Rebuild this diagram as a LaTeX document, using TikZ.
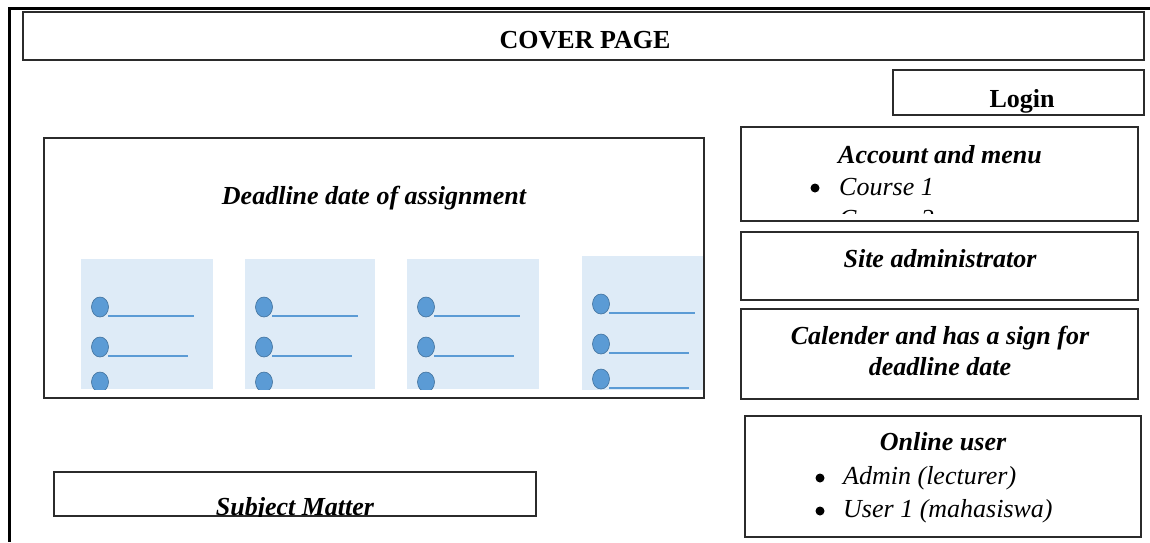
\documentclass[tikz,border=0pt]{standalone}
\usepackage{fontspec}
\setmainfont{Liberation Serif}
\definecolor{panelblue}{HTML}{DEEBF7}
\definecolor{dotblue}{HTML}{5B9BD5}
\definecolor{dotedge}{HTML}{41719C}
\definecolor{framegray}{HTML}{2B2B2B}
\tikzset{
  box/.style={draw=framegray, line width=1.3pt, anchor=north west, inner sep=0pt, outer sep=0pt},
  heading/.style={font=\fontsize{26}{31}\selectfont\bfseries\itshape, anchor=base, inner sep=0pt},
  titletext/.style={font=\fontsize{26}{31}\selectfont\bfseries, anchor=base, inner sep=0pt},
  itemtext/.style={font=\fontsize{26}{31}\selectfont\itshape, anchor=base west, inner sep=0pt},
  bulletmark/.style={circle, fill=black, inner sep=0pt, minimum size=9pt},
  panel/.style={fill=panelblue, anchor=north west, inner sep=0pt, outer sep=0pt},
  listdot/.style={fill=dotblue, draw=dotedge, line width=0.6pt},
  listrule/.style={draw=dotblue, line width=2pt},
}
\begin{document}
\begin{tikzpicture}[x=1pt,y=-1pt]
\useasboundingbox (0,0) rectangle (1150,542);

% page frame
\coordinate (frameTR) at (1150,8);
\coordinate (frameTL) at (9.5,8);
\coordinate (frameBL) at (9.5,542);
\draw[line width=3pt] (frameTR) -- (frameTL) -- (frameBL);

% boxes
\node[box, minimum width=1121pt, minimum height=48pt] (cover) at (23,12) {};
\node[box, minimum width=251pt, minimum height=45pt] (login) at (893,70) {};
\node[box, minimum width=397pt, minimum height=94pt] (account) at (741,127) {};
\node[box, minimum width=397pt, minimum height=68pt] (siteadmin) at (741,232) {};
\node[box, minimum width=397pt, minimum height=90pt] (calendar) at (741,309) {};
\node[box, minimum width=396pt, minimum height=121pt] (online) at (745,416) {};
\node[box, minimum width=660pt, minimum height=260pt] (deadline) at (44,138) {};
\node[box, minimum width=482pt, minimum height=44pt] (subject) at (54,472) {};

% texts
\node[titletext] (coverText) at (585,48) {COVER PAGE};
\begin{scope}
  \clip (login.north west) rectangle (login.south east);
  \node[titletext] (loginText) at (1022,107) {Login};
\end{scope}

\node[heading] (accountText) at (940,163) {Account and menu};
\node[bulletmark] (accB1) at (815,188) {};
\node[itemtext] (accI1) at (839,195) {Course 1};
\begin{scope}
  % the list is cut off a little above the bottom edge of its box
  \clip (account.north west) rectangle ([yshift=8pt]account.south east);
  \node[bulletmark] (accB2) at (815,220) {};
  \node[itemtext] (accI2) at (839,227) {Course 2};
\end{scope}

\node[heading] (siteText) at (940,267) {Site administrator};
\node[heading] (calText1) at (940,344) {Calender and has a sign for};
\node[heading] (calText2) at (940,375) {deadline date};

\node[heading] (onlineText) at (943,450) {Online user};
\node[bulletmark] (onB1) at (820,478) {};
\node[itemtext] (onI1) at (843,484) {Admin (lecturer)};
\node[bulletmark] (onB2) at (820,511) {};
\node[itemtext] (onI2) at (843,517) {User 1 (mahasiswa)};

\node[heading] (deadlineText) at (374,204) {Deadline date of assignment};

\begin{scope}
  \clip (subject.north west) rectangle (subject.south east);
  \node[heading] (subjectText) at (295,515) {Subject Matter};
\end{scope}

% bulleted-list panels
\foreach \i/\px/\py/\pw/\ph in {1/81/259/132/130, 2/245/259/130/130, 3/407/259/132/130, 4/582/256/121/134} {
  \node[panel, minimum width=\pw pt, minimum height=\ph pt] (panel\i) at (\px,\py) {};
  \begin{scope}
    \clip (panel\i.north west) rectangle (panel\i.south east);
    \foreach \dy/\len in {48/113, 88/107, 123/107} {
      \draw[listrule] (\px+27,\py+\dy+9) -- (\px+\len,\py+\dy+9);
      \filldraw[listdot] (\px+19,\py+\dy) ellipse [x radius=8.5pt, y radius=10pt];
    }
  \end{scope}
}
\end{tikzpicture}
\end{document}
